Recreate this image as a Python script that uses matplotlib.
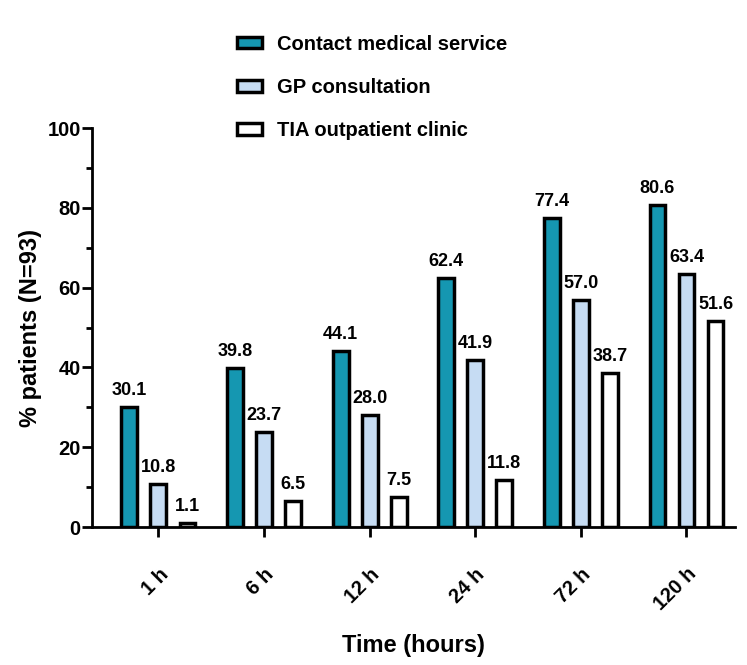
import matplotlib
matplotlib.use('Agg')
import matplotlib.pyplot as plt
import numpy as np

plt.rcParams['font.family'] = ['Liberation Sans', 'DejaVu Sans']
plt.rcParams['font.weight'] = 'bold'

# data
times = ['1 h', '6 h', '12 h', '24 h', '72 h', '120 h']
contact = [30.1, 39.8, 44.1, 62.4, 77.4, 80.6]
gp = [10.8, 23.7, 28.0, 41.9, 57.0, 63.4]
tia = [1.1, 6.5, 7.5, 11.8, 38.7, 51.6]
series_names = ['Contact medical service', 'GP consultation', 'TIA outpatient clinic']
colors = ['#1597b1', '#c6dcf3', '#ffffff']

fig = plt.figure(figsize=(7.47, 6.65), dpi=100)
ax = fig.add_axes([0.123, 0.2075, 0.861, 0.6])

x = np.arange(len(times))
offset = 0.275
width = 0.15
handles = []
for i, (vals, col, name) in enumerate(zip([contact, gp, tia], colors, series_names)):
    bars = ax.bar(x + (i - 1) * offset, vals, width, color=col, edgecolor='black',
                  linewidth=2.5, label=name, zorder=3)
    handles.append(bars)
    for xi, v in zip(x + (i - 1) * offset, vals):
        ax.text(xi, v + 2, '%.1f' % v, ha='center', va='bottom', fontsize=13,
                fontweight='bold')

ax.set_ylim(0, 100)
ax.set_xlim(-0.63, 5.46)
ax.set_yticks(np.arange(0, 101, 20))
ax.set_yticks(np.arange(10, 100, 20), minor=True)
ax.set_xticks(x)
ax.set_xticklabels(times, rotation=45, ha='right', rotation_mode='anchor')
ax.tick_params(axis='both', which='major', labelsize=14.5, width=2, length=7)
ax.tick_params(axis='y', which='minor', width=2, length=4)
ax.tick_params(axis='y', which='major', pad=1)
ax.tick_params(axis='x', pad=20)
for lab in ax.get_xticklabels() + ax.get_yticklabels():
    lab.set_fontweight('bold')

for s in ['top', 'right']:
    ax.spines[s].set_visible(False)
for s in ['left', 'bottom']:
    ax.spines[s].set_linewidth(2)

ax.set_ylabel('% patients (N=93)', fontsize=17, fontweight='bold', labelpad=4)
ax.set_xlabel('Time (hours)', fontsize=17, fontweight='bold', labelpad=14)

fig.legend(handles=handles, labels=series_names, loc='upper left',
           bbox_to_anchor=(0.293, 0.975), frameon=False,
           handlelength=1.25, handleheight=0.5, labelspacing=1.2,
           handletextpad=0.75, prop={'weight': 'bold', 'size': 14.5})

fig.savefig('out.png', dpi=100)
